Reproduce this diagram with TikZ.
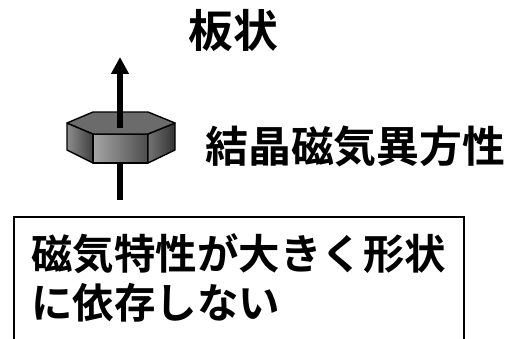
\documentclass[tikz,border=0pt]{standalone}
\usepackage{fontspec}
\newfontfamily\jpfont{Noto Sans CJK JP}[BoldFont={* Bold}]
\usetikzlibrary{arrows.meta}

\begin{document}
\begin{tikzpicture}[x=0.02cm, y=-0.02cm,
    title/.style={font=\jpfont\bfseries\fontsize{25.5}{28}\selectfont, inner sep=0pt},
    jptext/.style={font=\jpfont\bfseries\fontsize{23.6}{26}\selectfont, inner sep=0pt},
    frame/.style={draw, line width=0.9pt, anchor=north west, minimum width=9cm, minimum height=3.2cm, inner sep=0pt},
    axis/.style={line width=3.3pt, -{Triangle[length=0.34cm, width=0.34cm]}},
    face/.style={draw, line width=0.8pt, line join=round}
]
\path[use as bounding box, clip] (0,0) rectangle (513,338);

% crystal: hexagonal plate
\coordinate (top) at (120,123);
\coordinate (tip) at (120,57);
\coordinate (below) at (120,163);
\coordinate (foot) at (120,200);
\draw[line width=3.3pt] (below) -- (foot);
\draw[face, left color=black!45, right color=black!75] (67,123) -- (93,134) -- (93,163) -- (67,150) -- cycle;
\draw[face, left color=black!35, right color=black!70] (93,134) -- (148,134) -- (148,163) -- (93,163) -- cycle;
\draw[face, left color=black!55, right color=black!80] (148,134) -- (175,123) -- (175,150) -- (148,163) -- cycle;
\draw[face, fill=black!58] (67,123) -- (93,112) -- (148,112) -- (175,123) -- (148,134) -- (93,134) -- cycle;
\draw[axis] ([yshift=-3pt]top) -- (tip);

\node[title] (shape) at (233,31) {板状};
\node[title, font=\jpfont\bfseries\fontsize{24.4}{26}\selectfont, anchor=west] (aniso) at (205,146) {結晶磁気異方性};

% explanation box
\node[frame] (panel) at (13,216) {};
\node[jptext, align=left, anchor=west] (effect) at (31,278) {磁気特性が大きく形状\\[1.5pt]に依存しない};
\end{tikzpicture}
\end{document}
